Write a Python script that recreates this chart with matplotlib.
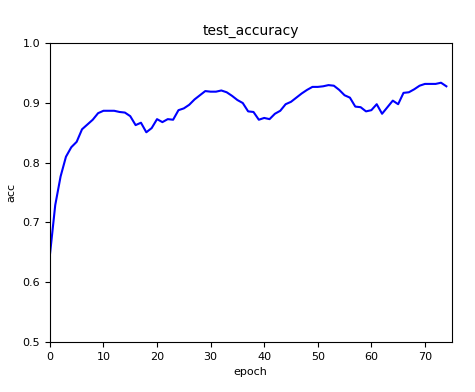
import matplotlib
matplotlib.use("Agg")
import matplotlib.pyplot as plt

epochs = list(range(75))
acc = [0.645, 0.729, 0.777, 0.810, 0.826, 0.835, 0.856, 0.864, 0.872, 0.883,
       0.887, 0.887, 0.887, 0.885, 0.884, 0.878, 0.863, 0.867, 0.851, 0.858,
       0.873, 0.868, 0.873, 0.872, 0.888, 0.891, 0.897, 0.906, 0.913, 0.920,
       0.919, 0.919, 0.921, 0.918, 0.912, 0.905, 0.900, 0.886, 0.885, 0.872,
       0.875, 0.873, 0.882, 0.887, 0.898, 0.902, 0.909, 0.916, 0.922, 0.927,
       0.927, 0.928, 0.930, 0.929, 0.922, 0.913, 0.909, 0.894, 0.893, 0.886,
       0.888, 0.898, 0.882, 0.893, 0.904, 0.898, 0.917, 0.918, 0.923, 0.929,
       0.932, 0.932, 0.932, 0.934, 0.928]

fig = plt.figure(figsize=(4.75, 3.92), dpi=100)
ax = fig.add_axes([0.105, 0.128, 0.846, 0.7615])
ax.plot(epochs, acc, color="blue", linewidth=1.5)
ax.set_xlim(0, 75)
ax.set_ylim(0.5, 1.0)
ax.set_title("test_accuracy", fontsize=10)
ax.set_xlabel("epoch", fontsize=8)
ax.set_ylabel("acc", fontsize=8)
ax.tick_params(labelsize=8)
fig.savefig("out.png", dpi=100)
